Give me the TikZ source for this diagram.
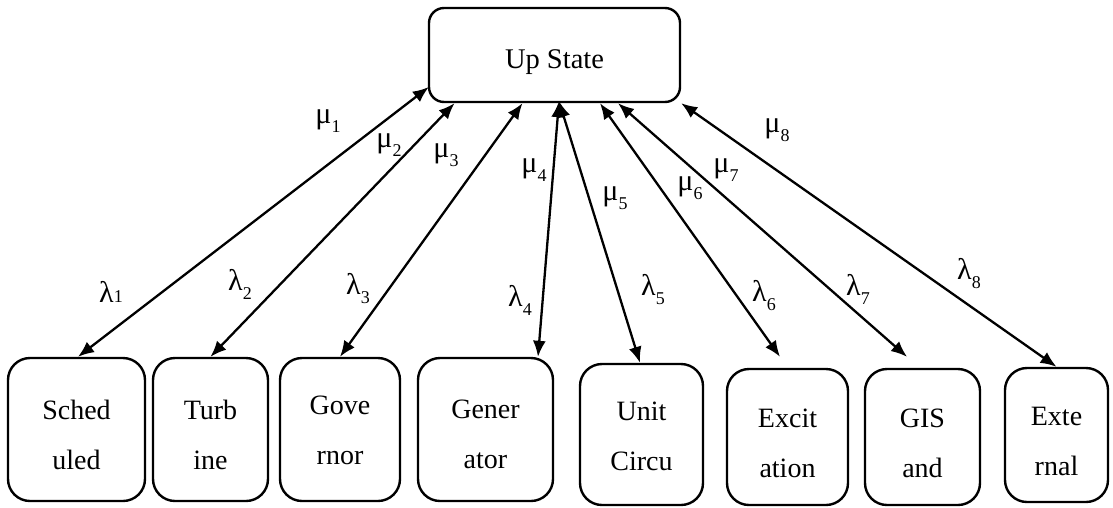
\documentclass[tikz,border=0pt]{standalone}
\usepackage{fontspec}
\setmainfont{Liberation Serif}
\usetikzlibrary{arrows.meta,calc}

% rate symbol with a lowered, smaller index
\newcommand{\ratesym}[2]{#1\raisebox{-0.3em}{\fontsize{18}{18}\selectfont #2}}
% rate symbol with the index on the baseline
\newcommand{\ratebase}[2]{#1{\fontsize{18}{18}\selectfont #2}}

\begin{document}
\begin{tikzpicture}[x=1pt,y=-1pt,
  statebox/.style={draw, line width=2.4pt, rounded corners=15pt,
    minimum width=251pt, minimum height=94pt, inner sep=0pt},
  compbox/.style={draw, line width=2.4pt, rounded corners=22pt, inner sep=0pt},
  boxtext/.style={align=center, anchor=north, inner sep=0pt,
    font=\fontsize{28}{50}\selectfont},
  ratelabel/.style={inner sep=0pt, font=\fontsize{30}{32}\selectfont},
  link/.style={line width=2.3pt,
    {Latex[length=16pt,width=13pt]}-{Latex[length=16pt,width=13pt]}}
]
\useasboundingbox (0,0) rectangle (1113,507);

% central state
\node[statebox] (up) at (554.5,55) {};
\node[anchor=base, inner sep=0pt, font=\fontsize{28.5}{34}\selectfont] (uptext)
  at ($(up.center)+(0,13)$) {Up State};

% component boxes
\node[compbox, minimum width=137pt, minimum height=143pt] (b1) at (76.5,429.5) {};
\node[compbox, minimum width=115pt, minimum height=143pt] (b2) at (210.5,429.5) {};
\node[compbox, minimum width=120pt, minimum height=143pt] (b3) at (340,429.5) {};
\node[compbox, minimum width=135pt, minimum height=143pt] (b4) at (485.5,429.5) {};
\node[compbox, minimum width=123pt, minimum height=141pt] (b5) at (641.5,434.5) {};
\node[compbox, minimum width=121pt, minimum height=136pt] (b6) at (787.5,437) {};
\node[compbox, minimum width=115pt, minimum height=136pt] (b7) at (922.5,437) {};
\node[compbox, minimum width=103pt, minimum height=134pt] (b8) at (1056.5,435) {};

% component names (as cut off in the boxes)
\node[boxtext] (t1) at (76.5,400) {Sched\\uled};
\node[boxtext] (t2) at (210.5,400) {Turb\\ine};
\node[boxtext] (t3) at (340,396) {Gove\\rnor};
\node[boxtext] (t4) at (485.5,400) {Gener\\ator};
\node[boxtext] (t5) at (641.5,402) {Unit\\Circu};
\node[boxtext] (t6) at (787.5,409) {Excit\\ation};
\node[boxtext] (t7) at (922.5,409) {GIS\\and};
\node[boxtext] (t8) at (1056.5,407) {Exte\\rnal};

% failure / repair transitions
\draw[link] ($(up.west)+(1,32)$) -- ($(b1.north)+(1.5,0)$);
\draw[link] ($(up.south)+(-100,0)$) -- (b2.north);
\draw[link] ($(up.south)+(-32,0)$) -- (b3.north);
\draw[link] ($(up.south)+(4.5,-2)$) -- ($(b4.north)+(52.5,0)$);
\draw[link] ($(up.south)+(4.5,-2)$) -- ($(b5.north)+(-1.5,0)$);
\draw[link] ($(up.south)+(45.5,0)$) -- ($(b6.north)+(-7.5,-11)$);
\draw[link] ($(up.south)+(63.5,0)$) -- ($(b7.north)+(-15.5,-11)$);
\draw[link] (up.south east) -- (b8.north);

% repair rates
\node[ratelabel] (m1) at (328,121) {\ratesym{μ}{1}};
\node[ratelabel] (m2) at (389,145) {\ratesym{μ}{2}};
\node[ratelabel] (m3) at (446,155) {\ratesym{μ}{3}};
\node[ratelabel] (m4) at (534,170) {\ratesym{μ}{4}};
\node[ratelabel] (m5) at (615,198) {\ratesym{μ}{5}};
\node[ratelabel] (m6) at (690,188) {\ratesym{μ}{6}};
\node[ratelabel] (m7) at (726,170) {\ratesym{μ}{7}};
\node[ratelabel] (m8) at (777,130) {\ratesym{μ}{8}};

% failure rates
\node[ratelabel] (l1) at (111,292) {\ratebase{λ}{1}};
\node[ratelabel] (l2) at (240,284) {\ratesym{λ}{2}};
\node[ratelabel] (l3) at (358,289) {\ratesym{λ}{3}};
\node[ratelabel] (l4) at (520,300) {\ratesym{λ}{4}};
\node[ratelabel] (l5) at (653,290) {\ratesym{λ}{5}};
\node[ratelabel] (l6) at (764,296) {\ratesym{λ}{6}};
\node[ratelabel] (l7) at (858,289) {\ratesym{λ}{7}};
\node[ratelabel] (l8) at (969,274) {\ratesym{λ}{8}};
\end{tikzpicture}
\end{document}
